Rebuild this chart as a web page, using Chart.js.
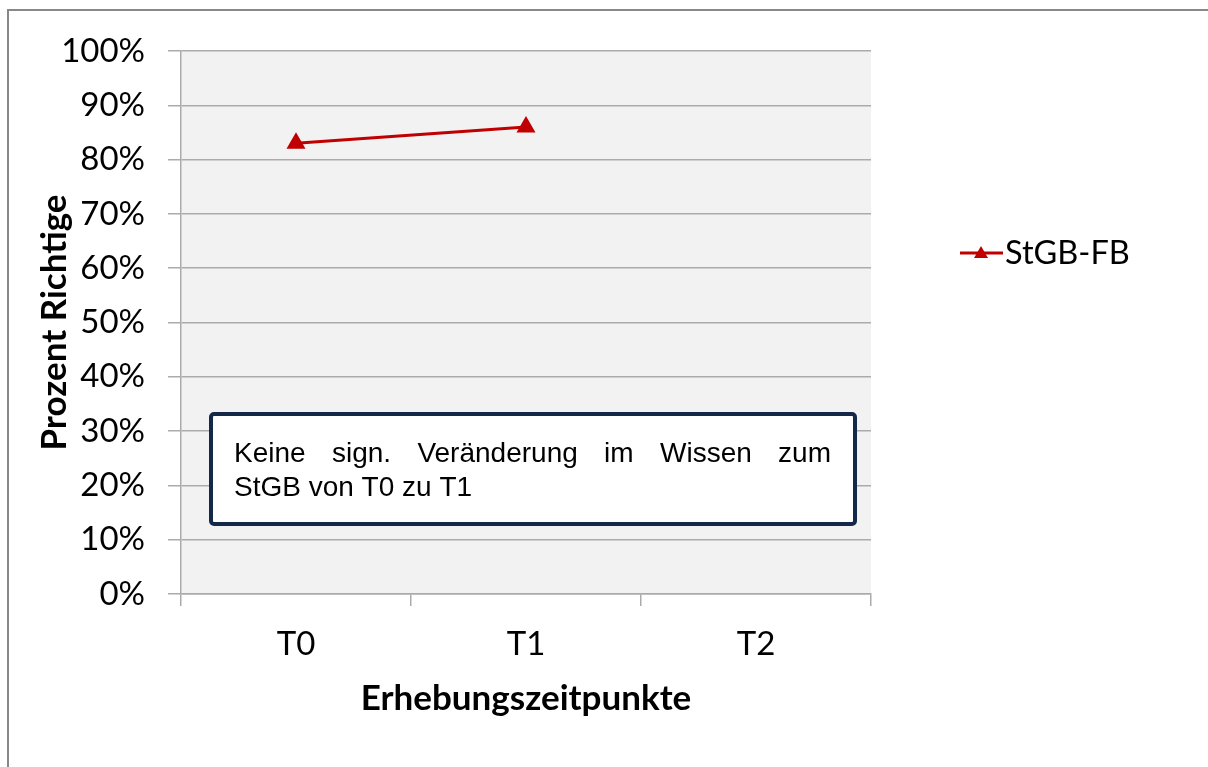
<!DOCTYPE html>
<html><head><meta charset="utf-8">
<script src="https://cdn.jsdelivr.net/npm/chart.js@4.4.1/dist/chart.umd.min.js"></script>
<style>html,body{margin:0;padding:0;background:#fff;}canvas{display:block;}</style>
</head><body>
<canvas id="c" width="1208" height="767"></canvas>
<script>
const categories = ['T0', 'T1', 'T2'];
const seriesName = 'StGB-FB';
const seriesValues = [83, 86, null];
const yTicks = [0, 10, 20, 30, 40, 50, 60, 70, 80, 90, 100];
const xTitle = 'Erhebungszeitpunkte';
const yTitle = 'Prozent Richtige';
const noteLines = ['Keine sign. Veränderung im Wissen zum', 'StGB von T0 zu T1'];

const GRID = '#ababab';
const RED = '#c00000';
const FONT = 'Lato';

const decor = {
  id: 'decor',
  beforeDraw(chart) {
    const {ctx, chartArea: a} = chart;
    ctx.save();
    ctx.fillStyle = '#fff';
    ctx.fillRect(0, 0, chart.width, chart.height);
    ctx.fillStyle = '#f2f2f2';
    ctx.fillRect(a.left, a.top, a.right - a.left, a.bottom - a.top);
    ctx.strokeStyle = '#888888';
    ctx.lineWidth = 2;
    ctx.beginPath();
    ctx.moveTo(8, 800); ctx.lineTo(8, 10); ctx.lineTo(1300, 10);
    ctx.stroke();
    ctx.restore();
  },
  afterDraw(chart) {
    const {ctx} = chart;
    const ds = chart.data.datasets[0];
    ctx.save();
    // legend
    const ly = 253;
    ctx.strokeStyle = ds.borderColor; ctx.lineWidth = 3;
    ctx.beginPath(); ctx.moveTo(960, ly); ctx.lineTo(1003, ly); ctx.stroke();
    ctx.fillStyle = ds.borderColor;
    ctx.beginPath(); ctx.moveTo(981, ly - 7); ctx.lineTo(988, ly + 5); ctx.lineTo(974, ly + 5); ctx.closePath(); ctx.fill();
    ctx.fillStyle = '#000'; ctx.font = '32.5px ' + FONT;
    ctx.textBaseline = 'middle'; ctx.textAlign = 'left';
    ctx.fillText(ds.label, 1005, ly + 1);
    // note box
    const bx = 211, by = 414, bw = 644, bh = 110;
    ctx.fillStyle = '#fff';
    ctx.strokeStyle = '#14294a'; ctx.lineWidth = 4;
    ctx.beginPath();
    if (ctx.roundRect) ctx.roundRect(bx, by, bw, bh, 3); else ctx.rect(bx, by, bw, bh);
    ctx.fill(); ctx.stroke();
    ctx.fillStyle = '#000';
    ctx.font = '28px "Liberation Sans", Arial, sans-serif';
    ctx.textBaseline = 'alphabetic';
    const tx0 = 234, tx1 = 831;
    const words = noteLines[0].split(' ');
    const wsum = words.reduce((s, w) => s + ctx.measureText(w).width, 0);
    const gap = (tx1 - tx0 - wsum) / (words.length - 1);
    let x = tx0;
    words.forEach(w => { ctx.fillText(w, x, 462); x += ctx.measureText(w).width + gap; });
    ctx.fillText(noteLines[1], tx0, 496);
    ctx.restore();
  }
};

new Chart(document.getElementById('c'), {
  type: 'line',
  data: {
    labels: categories,
    datasets: [{
      label: seriesName,
      data: seriesValues,
      borderColor: RED,
      backgroundColor: RED,
      borderWidth: 3,
      pointStyle: 'triangle',
      pointRadius: 8,
      pointHoverRadius: 8,
      tension: 0,
      spanGaps: false
    }]
  },
  options: {
    responsive: false,
    animation: false,
    events: [],
    layout: {padding: {top: 51, right: 337, left: 0, bottom: 0}},
    plugins: {legend: {display: false}, tooltip: {enabled: false}},
    scales: {
      x: {
        offset: true,
        grid: {offset: true, drawOnChartArea: false, drawTicks: true, tickLength: 12, color: GRID, lineWidth: 1.5},
        border: {color: GRID, width: 1.5},
        ticks: {color: '#000', font: {family: FONT, size: 33}, padding: 19},
        title: {display: true, text: xTitle, color: '#000', font: {family: FONT, size: 35, weight: 'bold'}, padding: {top: 0, bottom: 47}},
        afterFit(s) { s.height = 173; }
      },
      y: {
        min: 0, max: 100,
        afterBuildTicks(s) { s.ticks = yTicks.map(v => ({value: v})); },
        grid: {color: GRID, lineWidth: 1.5, tickLength: 13, drawTicks: true},
        border: {color: GRID, width: 1.5},
        ticks: {color: '#000', font: {family: FONT, size: 33}, padding: 23, callback: v => v + '%'},
        title: {display: true, text: yTitle, color: '#000', font: {family: FONT, size: 35, weight: 'bold'}, padding: {top: 34, bottom: 0}},
        afterFit(s) { s.width = 181; }
      }
    }
  },
  plugins: [decor]
});
</script>
</body></html>
